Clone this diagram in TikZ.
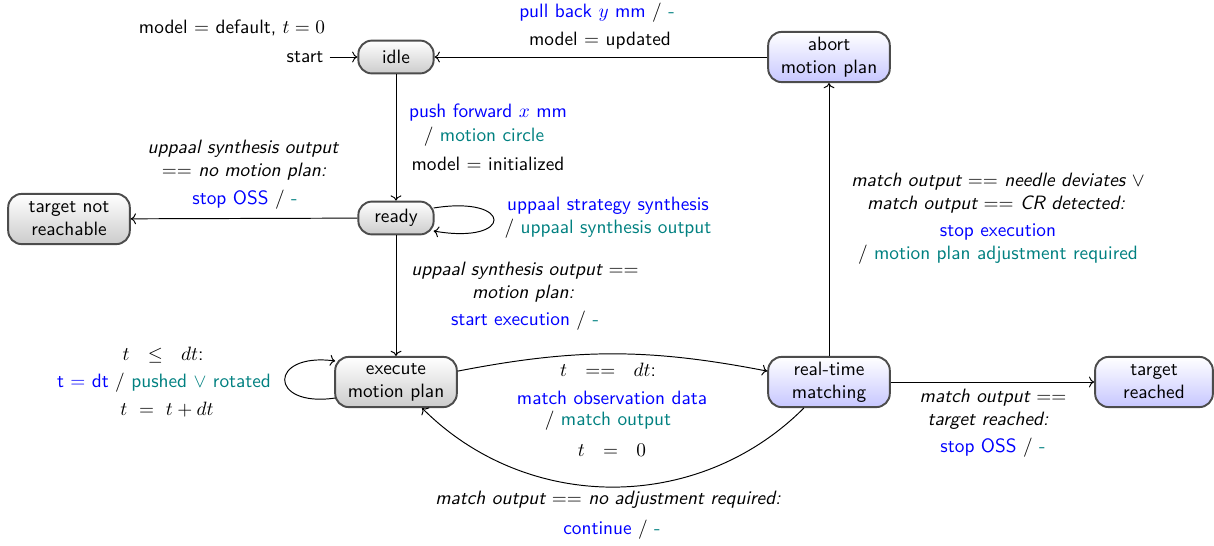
\documentclass[tikz,border=0pt]{standalone}
\usetikzlibrary{arrows.meta,calc}
\colorlet{act}{blue}
\colorlet{out}{teal}
\begin{document}
\begin{tikzpicture}[x=0.518pt,y=-0.518pt,font=\sffamily,
  base/.style={draw=gray!60!black,line width=1pt,rounded corners=7pt,
    align=center,inner sep=2pt,top color=white},
  gstate/.style={base,bottom color=gray!40},
  bstate/.style={base,bottom color=blue!22},
  small/.style={minimum width=39pt,minimum height=17pt},
  big/.style={minimum width=63pt,minimum height=26pt},
  lbl/.style={inner sep=0pt,align=center},
  edge/.style={->,line width=0.5pt}]
\useasboundingbox (0,0) rectangle (1214,545);

% states
\node[gstate,small] (idle)  at (396,57)  {idle};
\node[gstate,small] (ready) at (396,218) {ready};
\node[gstate,big]   (nreach) at (69,219) {target not\\reachable};
\node[gstate,big]   (exec)  at (396,382) {execute\\motion plan};
\node[bstate,big]   (abort) at (829,57)  {abort\\motion plan};
\node[bstate,big]   (rt)    at (829,382) {real-time\\matching};
\node[bstate,big,minimum width=61pt] (reached) at (1154,382) {target\\reached};

% initial transition
\node[lbl] (init) at (232,28) {model $=$ default, $t=0$};
\node[lbl] (start) at (305,57) {start};
\draw[edge,shorten <=3pt] (start) -- (idle);

% idle -> ready
\draw[edge] (idle) -- (ready);
\node[lbl] (l1a) at (488,113) {\color{act}push forward $x$ mm};
\node[lbl] (l1b) at (484,137) {/ \color{out}motion circle};
\node[lbl] (l1c) at (488,164) {model $=$ initialized};

% ready -> target not reachable
\draw[edge] (ready) -- (nreach);
\node[lbl] (l2a) at (243,149) {\itshape uppaal synthesis output};
\node[lbl] (l2b) at (244,172) {\itshape $==$ no motion plan:};
\node[lbl] (l2c) at (245,200) {\color{act}stop OSS \color{black}/ \color{out}-};

% ready self loop
\coordinate (rla) at ($(ready.east)+(-1,-10)$);
\coordinate (rlb) at ($(ready.east)+(-1,13)$);
\draw[edge] (rla) .. controls (514,195) and (514,245) .. (rlb);
\node[lbl] (l3a) at (608,206) {\color{act}uppaal strategy synthesis};
\node[lbl] (l3b) at (608,229) {/ \color{out}uppaal synthesis output};

% ready -> execute
\draw[edge] (ready) -- (exec);
\node[lbl] (l4a) at (525,271) {\itshape uppaal synthesis output $==$};
\node[lbl] (l4b) at (523,294) {\itshape motion plan:};
\node[lbl] (l4c) at (525,321) {\color{act}start execution \color{black}/ \color{out}-};

% execute self loop
\coordinate (ela) at ($(exec.west)+(1,16)$);
\coordinate (elb) at ($(exec.west)+(1,-21)$);
\draw[edge] (ela) .. controls (268,408) and (268,352) .. (elb);
\node[lbl] (l5a) at (163,355) {$t\ \ \leq\ \ dt$:};
\node[lbl] (l5b) at (164,383) {\color{act}t $=$ dt \color{black}/ \color{out}pushed $\vee$ rotated};
\node[lbl] (l5c) at (167,410) {$t\ =\ t+dt$};

% execute -> real-time matching
\draw[edge] (exec.10) to[bend left=11] (rt.170);
\node[lbl] (l6a) at (608,370) {$t\ \ ==\ \ dt$:};
\node[lbl] (l6b) at (612,398) {\color{act}match observation data};
\node[lbl] (l6c) at (608,421) {/ \color{out}match output};
\node[lbl] (l6d) at (612,450) {$t\ \ =\ \ 0$};

% real-time matching -> execute
\draw[edge] (rt.226) to[bend left=45] (exec.315);
\node[lbl] (l7a) at (608,500) {\itshape match output $==$ no adjustment required:};
\node[lbl] (l7b) at (612,530) {\color{act}continue \color{black}/ \color{out}-};

% real-time matching -> abort
\draw[edge] (rt) -- (abort);
\node[lbl] (l8a) at (998,182) {\itshape match output $==$ needle deviates $\vee$};
\node[lbl] (l8b) at (996,205) {\itshape match output $==$ CR detected:};
\node[lbl] (l8c) at (998,232) {\color{act}stop execution};
\node[lbl] (l8d) at (998,255) {/ \color{out}motion plan adjustment required};

% abort -> idle
\draw[edge] (abort) -- (idle);
\node[lbl] (l9a) at (597,13) {\color{act}pull back $y$ mm \color{black}/ \color{out}-};
\node[lbl] (l9b) at (600,41) {model $=$ updated};

% real-time matching -> target reached
\draw[edge] (rt) -- (reached);
\node[lbl] (l10a) at (993,398) {\itshape match output $==$};
\node[lbl] (l10b) at (988,421) {\itshape target reached:};
\node[lbl] (l10c) at (993,448) {\color{act}stop OSS \color{black}/ \color{out}-};
\end{tikzpicture}
\end{document}
